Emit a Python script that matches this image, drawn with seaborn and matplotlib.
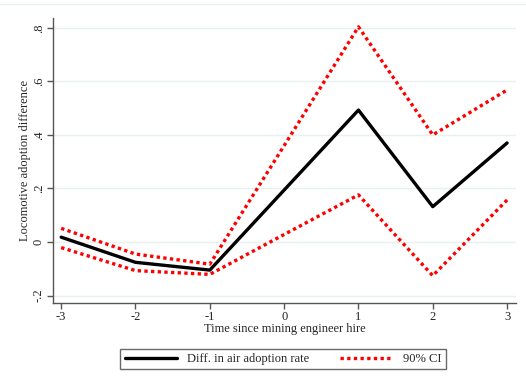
from __future__ import annotations

import matplotlib.pyplot as plt
import pandas as pd
import seaborn as sns

# Event time relative to the mining engineer hire
periods = [-3, -2, -1, 0, 1, 2, 3]
diff_rate = [0.018, -0.076, -0.105, 0.194, 0.493, 0.132, 0.37]
ci_upper = [0.051, -0.045, -0.083, 0.36, 0.804, 0.40, 0.568]
ci_lower = [-0.021, -0.107, -0.121, 0.028, 0.176, -0.126, 0.157]

y_ticks = [-0.2, 0.0, 0.2, 0.4, 0.6, 0.8]
y_tick_labels = ["-.2", "0", ".2", ".4", ".6", ".8"]

FONT_SIZE = 9


def set_style() -> None:
    sns.set_theme(style="white")
    plt.rcParams.update({
        "font.family": ["Liberation Serif", "DejaVu Serif"],
        "font.size": FONT_SIZE,
        "axes.edgecolor": "#555555",
        "axes.linewidth": 1.0,
        "xtick.color": "#555555",
        "ytick.color": "#555555",
        "xtick.labelcolor": "#222222",
        "ytick.labelcolor": "#222222",
    })


def build_figure() -> plt.Figure:
    df = pd.DataFrame({
        "t": periods,
        "diff": diff_rate,
        "upper": ci_upper,
        "lower": ci_lower,
    })

    fig = plt.figure(figsize=(5.26, 3.85), dpi=100)
    ax = fig.add_axes([53 / 526, 1 - 303 / 385, (516 - 53) / 526, (303 - 18) / 385])

    for y in y_ticks:
        ax.axhline(y, color="#e8f0f1", lw=1.0, zorder=0)

    red = "#ff0000"
    sns.lineplot(data=df, x="t", y="upper", ax=ax, color=red, lw=2.4,
                 linestyle=(0, (1, 1)), label="90% CI")
    sns.lineplot(data=df, x="t", y="lower", ax=ax, color=red, lw=2.4,
                 linestyle=(0, (1, 1)), label="_nolegend_")
    sns.lineplot(data=df, x="t", y="diff", ax=ax, color="black", lw=2.4,
                 label="Diff. in air adoption rate")

    ax.set_xlim(-3.11, 3.12)
    ax.set_ylim(-0.228, 0.837)
    ax.set_xticks(periods)
    ax.set_xticklabels([str(p) for p in periods])
    ax.set_yticks(y_ticks)
    ax.set_yticklabels(y_tick_labels, rotation=90, va="center")
    ax.tick_params(axis="both", direction="out", length=4, width=1,
                   labelsize=FONT_SIZE, pad=2)
    ax.tick_params(axis="x", bottom=True)
    ax.tick_params(axis="y", left=True)

    ax.set_xlabel("Time since mining engineer hire", fontsize=FONT_SIZE, labelpad=0)
    ax.set_ylabel("Locomotive adoption difference", fontsize=FONT_SIZE, labelpad=1)
    sns.despine(ax=ax)

    handles, labels = ax.get_legend_handles_labels()
    order = [labels.index("Diff. in air adoption rate"), labels.index("90% CI")]
    leg = ax.legend(
        [handles[i] for i in order], [labels[i] for i in order],
        loc="center", bbox_to_anchor=(283 / 526, 1 - 359 / 385),
        bbox_transform=fig.transFigure, ncol=2, frameon=True, fancybox=False,
        handlelength=4.2, columnspacing=2.5, borderpad=0.35, fontsize=FONT_SIZE,
    )
    leg.get_frame().set_edgecolor("#444444")
    leg.get_frame().set_linewidth(1.0)

    # faint frame line along the top of the graph region
    fig.add_artist(plt.Line2D([0, 1], [1 - 4 / 385, 1 - 4 / 385],
                              transform=fig.transFigure, color="#e8f0f1", lw=1.0))
    return fig


def main() -> None:
    set_style()
    fig = build_figure()
    fig.savefig("out.png", dpi=100, facecolor="white")


if __name__ == "__main__":
    main()
